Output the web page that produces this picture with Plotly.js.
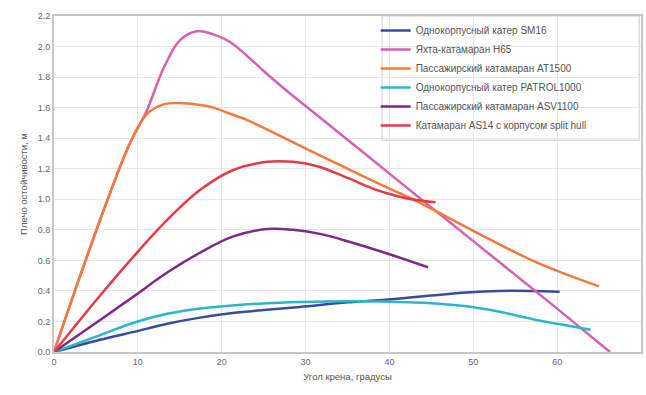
<!DOCTYPE html>
<html>
<head>
<meta charset="utf-8">
<script src="https://cdn.plot.ly/plotly-3.0.1.min.js"></script>
<style>html,body{margin:0;padding:0;background:#fff;}#chart{width:646px;height:395px;}</style>
</head>
<body>
<div id="chart"></div>
<script>
// Data
const names = [
  "Однокорпусный катер SM16",
  "Яхта-катамаран H65",
  "Пассажирский катамаран AT1500",
  "Однокорпусный катер PATROL1000",
  "Пассажирский катамаран ASV1100",
  "Катамаран AS14 с корпусом split hull"
];
const colors = ["#3b4a9c", "#d462b0", "#f07b3c", "#2cb6cc", "#7a2b86", "#e63a48"];

const sm16X = [0, 5.5, 9.4, 13.5, 17.4, 21.3, 25, 29.3, 35, 39.2, 45, 49.2, 53, 57.1, 60.3];
const sm16Y = [0, 0.08, 0.13, 0.185, 0.225, 0.255, 0.275, 0.295, 0.325, 0.34, 0.37, 0.39, 0.40, 0.40, 0.395];

const h65X = [0, 3, 6, 9, 11.1, 13, 15, 17, 19, 21, 23, 25, 27, 29, 35, 40, 45, 50, 55, 60, 66.3];
const h65Y = [0, 0.48, 0.94, 1.36, 1.585, 1.85, 2.04, 2.10, 2.08, 2.03, 1.94, 1.84, 1.745, 1.655, 1.39, 1.168, 0.947, 0.726, 0.505, 0.284, 0.0];

const at1500X = [0, 3, 6, 9, 11.1, 13, 15, 17, 19, 21, 23, 24.9, 29, 35, 40, 43, 47, 51.5, 57, 61, 65];
const at1500Y = [0, 0.48, 0.94, 1.36, 1.56, 1.62, 1.63, 1.62, 1.60, 1.56, 1.52, 1.47, 1.36, 1.20, 1.07, 0.995, 0.88, 0.75, 0.60, 0.51, 0.43];

const patrolX = [0, 5.5, 9.4, 13.5, 17.4, 21.3, 25, 29.3, 35, 39.2, 45, 49.2, 53, 57.1, 60, 64];
const patrolY = [0, 0.11, 0.19, 0.25, 0.285, 0.305, 0.318, 0.327, 0.333, 0.33, 0.32, 0.30, 0.265, 0.215, 0.185, 0.145];

const asv1100X = [0, 5.5, 9.4, 13.5, 17.4, 21.3, 25.4, 28.5, 32, 35.3, 40, 44.6];
const asv1100Y = [0, 0.21, 0.36, 0.52, 0.65, 0.755, 0.805, 0.80, 0.77, 0.72, 0.64, 0.555];

const as14X = [0, 5.5, 9.4, 13.5, 17.4, 21.3, 25.4, 28.5, 31.5, 35, 38, 41, 43, 45.5];
const as14Y = [0, 0.37, 0.62, 0.865, 1.06, 1.19, 1.245, 1.245, 1.215, 1.14, 1.07, 1.02, 0.997, 0.98];

const xTicks = [0, 10, 20, 30, 40, 50, 60, 70];
const yTicks = [0, 0.2, 0.4, 0.6, 0.8, 1.0, 1.2, 1.4, 1.6, 1.8, 2.0, 2.2];

const seriesX = [sm16X, h65X, at1500X, patrolX, asv1100X, as14X];
const seriesY = [sm16Y, h65Y, at1500Y, patrolY, asv1100Y, as14Y];

const traces = names.map((n, i) => ({
  x: seriesX[i], y: seriesY[i], name: n, type: "scatter", mode: "lines",
  line: {color: colors[i], width: 2.5, shape: "spline", smoothing: 1}
}));

const font = "Liberation Sans, Arial, sans-serif";
const layout = {
  width: 646, height: 395,
  margin: {l: 54, r: 5, t: 16, b: 43},
  paper_bgcolor: "#fff", plot_bgcolor: "#fff",
  font: {family: font, size: 9, color: "#555"},
  showlegend: true,
  legend: {
    x: 0.548, y: 1.0, xanchor: "left", yanchor: "top",
    bgcolor: "rgba(0,0,0,0)", borderwidth: 0,
    font: {family: font, size: 10, color: "#555"},
    itemwidth: 30, tracegroupgap: 0
  },
  shapes: [{
    type: "rect", xref: "paper", yref: "paper", layer: "below",
    x0: 0.559, x1: 0.997, y0: 0.63, y1: 1.0,
    line: {color: "#cfcfcf", width: 1}, fillcolor: "#fff"
  }],
  xaxis: {
    range: [0, 70], tickvals: xTicks, ticktext: xTicks.map(String),
    showgrid: true, gridcolor: "#e6e6e6", gridwidth: 1,
    showline: true, linecolor: "#c8c8c8", linewidth: 2, mirror: true,
    zeroline: false, ticks: "", ticklen: 0,
    tickfont: {size: 9, color: "#666"},
    title: {text: "Угол крена, градусы", font: {size: 9.5, color: "#555"}, standoff: 8}
  },
  yaxis: {
    range: [0, 2.2], tickvals: yTicks, ticktext: yTicks.map(v => v.toFixed(1)),
    showgrid: true, gridcolor: "#e6e6e6", gridwidth: 1,
    showline: true, linecolor: "#c8c8c8", linewidth: 2, mirror: true,
    zeroline: false, ticks: "", ticklen: 0,
    tickfont: {size: 9, color: "#666"},
    title: {text: "Плечо остойчивости, м", font: {size: 9.5, color: "#555"}, standoff: 8}
  }
};

Plotly.newPlot("chart", traces, layout, {displayModeBar: false, staticPlot: true});
</script>
</body>
</html>
